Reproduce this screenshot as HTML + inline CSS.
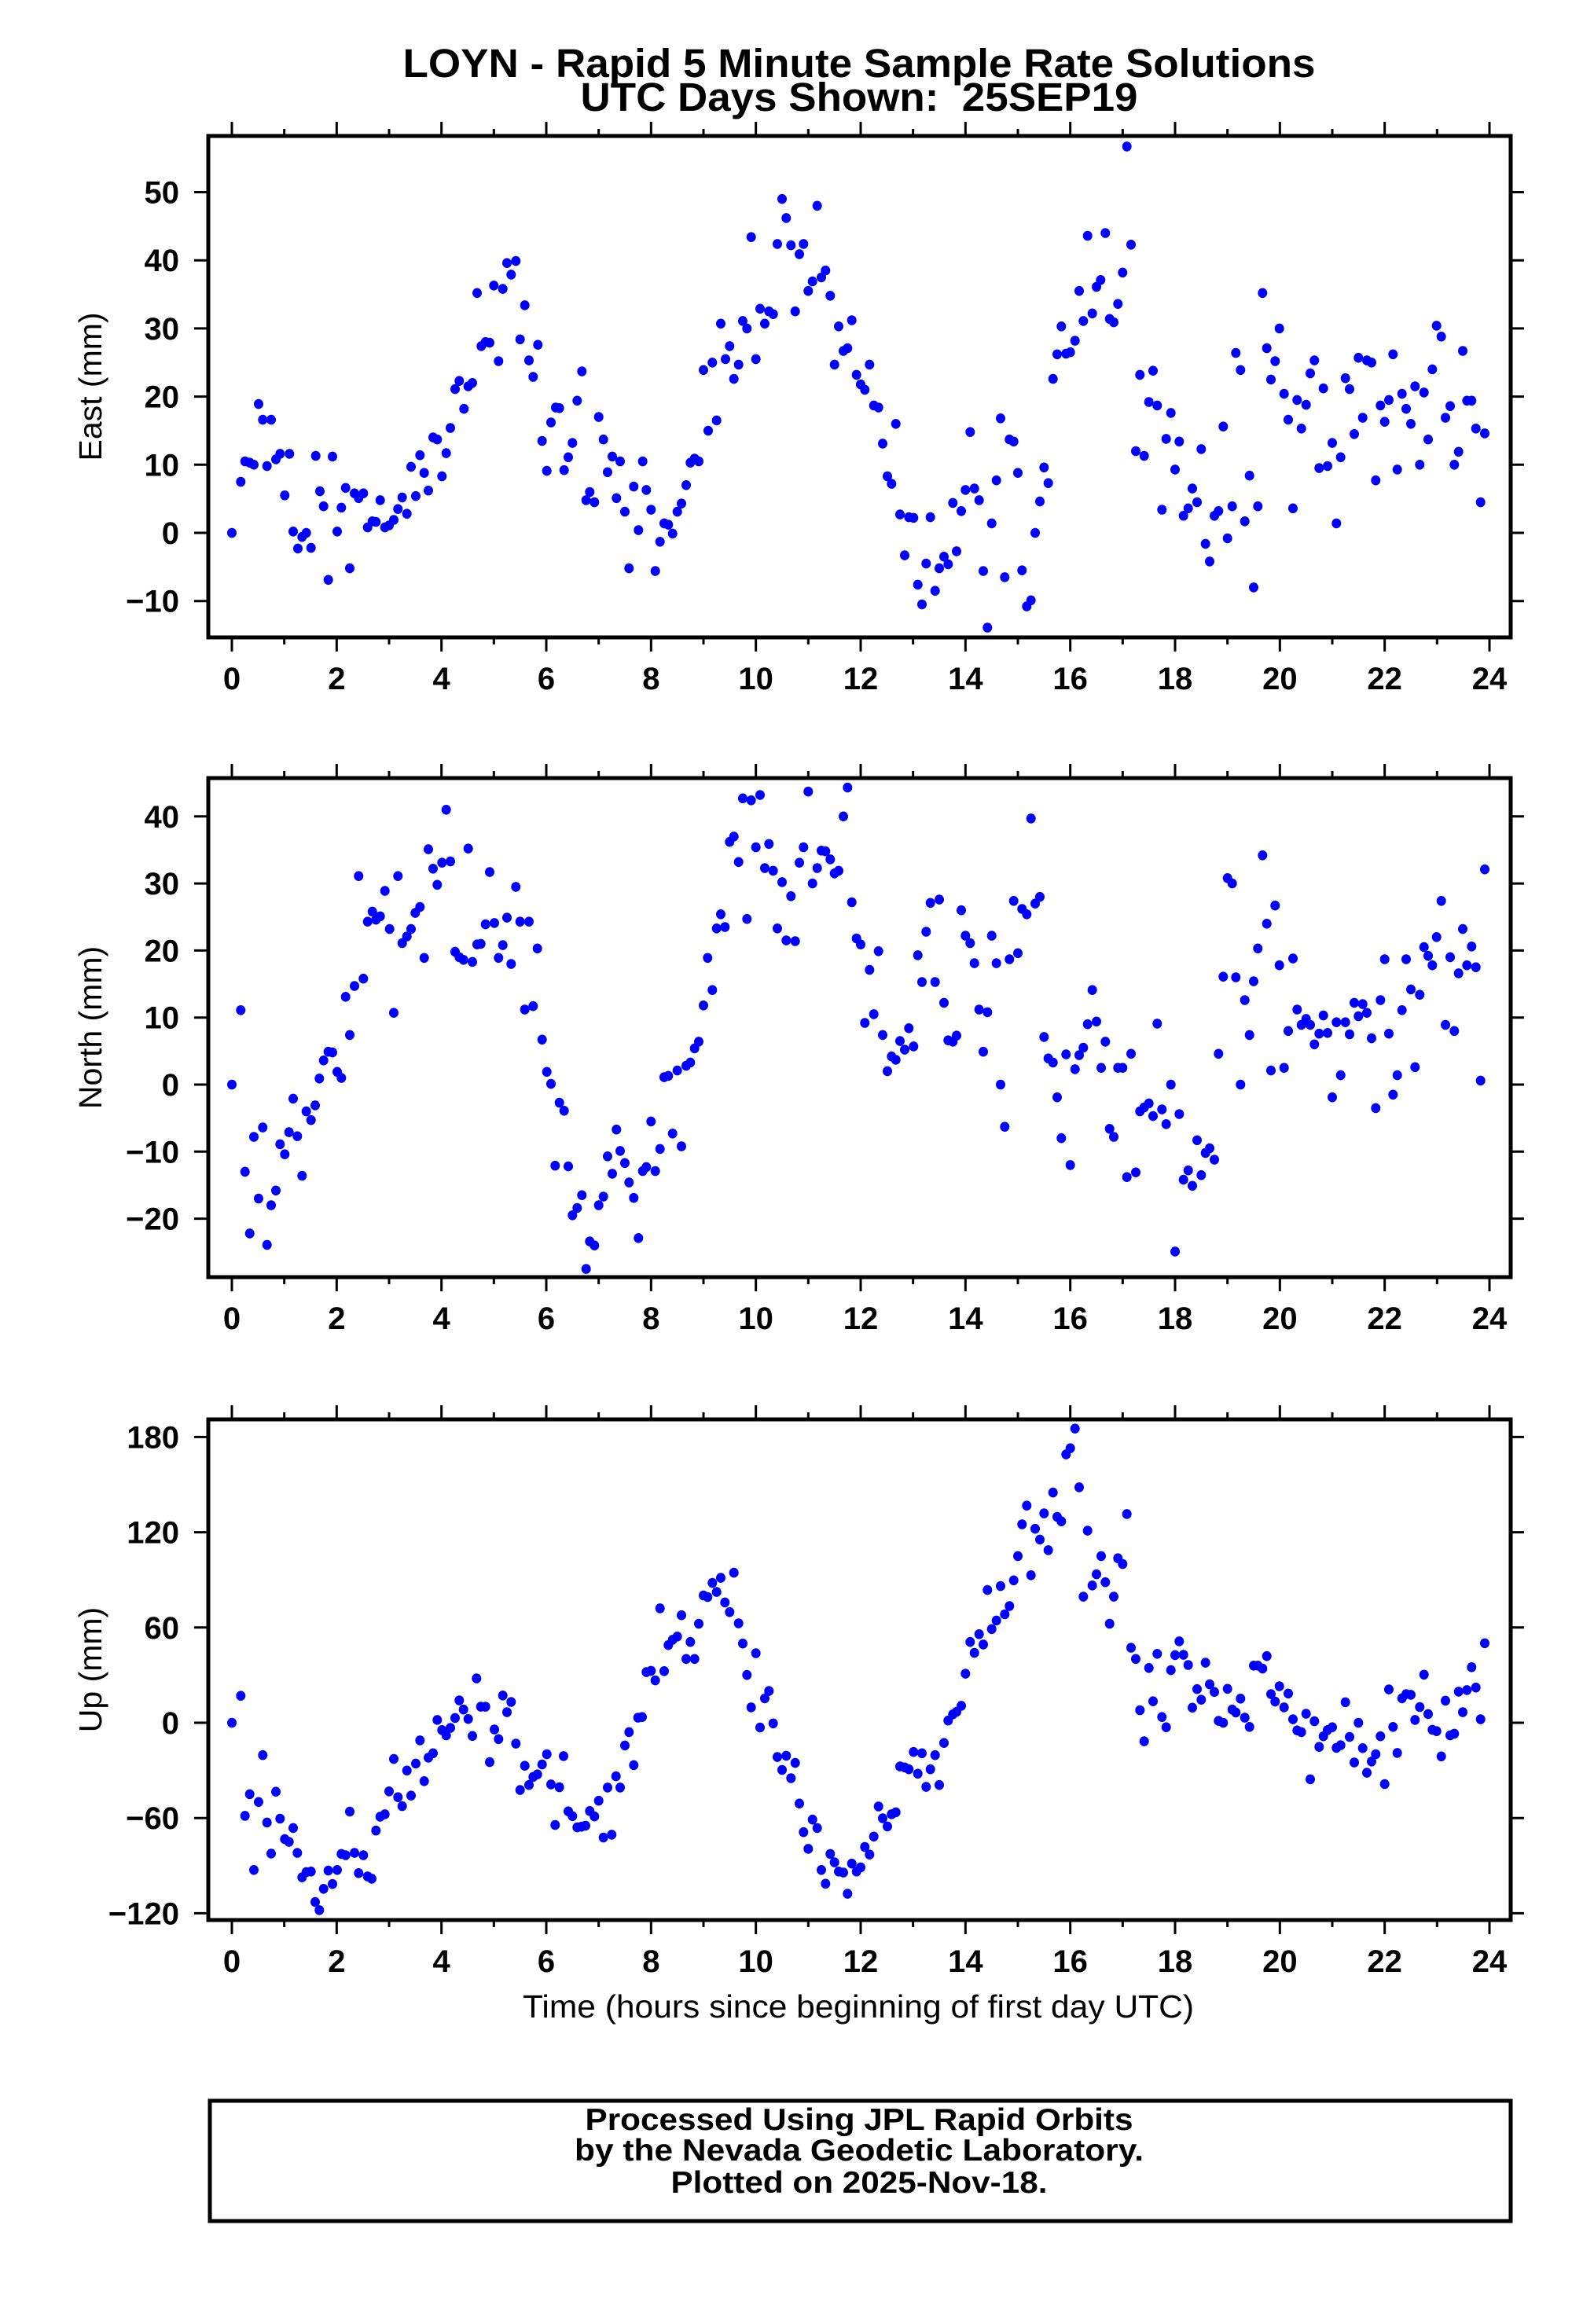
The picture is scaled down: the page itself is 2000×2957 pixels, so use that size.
<!DOCTYPE html>
<html><head><meta charset="utf-8"><style>
html,body{margin:0;padding:0;background:#fff;}
svg{display:block;}
text{font-family:"Liberation Sans",Arial,sans-serif;fill:#000;}
.b{font-weight:bold;}
</style></head><body>
<svg id="chart" width="2000" height="2957" viewBox="0 0 2000 2957" xmlns="http://www.w3.org/2000/svg">
<rect x="0" y="0" width="2000" height="2957" fill="#fff"/>
<text class="b" x="1093" y="98" font-size="51" text-anchor="middle" textLength="1161" lengthAdjust="spacingAndGlyphs">LOYN - Rapid 5 Minute Sample Rate Solutions</text>
<text class="b" x="1093" y="141" font-size="51" text-anchor="middle" xml:space="preserve" textLength="709" lengthAdjust="spacingAndGlyphs">UTC Days Shown:  25SEP19</text>
<g id="plots"></g>
<text x="1092" y="2567" font-size="41" text-anchor="middle" textLength="854" lengthAdjust="spacingAndGlyphs">Time (hours since beginning of first day UTC)</text>
<rect x="267" y="2673" width="1655" height="153" fill="none" stroke="#000" stroke-width="5"/>
<text class="b" x="1093" y="2710" font-size="39" text-anchor="middle" textLength="697" lengthAdjust="spacingAndGlyphs">Processed Using JPL Rapid Orbits</text>
<text class="b" x="1093" y="2749" font-size="39" text-anchor="middle" textLength="724" lengthAdjust="spacingAndGlyphs">by the Nevada Geodetic Laboratory.</text>
<text class="b" x="1093" y="2790" font-size="39" text-anchor="middle" textLength="479" lengthAdjust="spacingAndGlyphs">Plotted on 2025-Nov-18.</text>
</svg>
<script>
const eastT=[0,.17,.25,.34,.42,.51,.59,.67,.75,.84,.92,1.01,1.1,1.17,1.26,1.34,1.42,1.51,1.6,1.68,1.75,1.84,1.92,2.01,2.09,2.17,2.25,2.34,2.42,2.51,2.59,2.68,2.75,2.83,2.92,3,3.09,3.17,3.25,3.34,3.42,3.51,3.59,3.67,3.75,3.84,3.92,4.01,4.09,4.17,4.26,4.34,4.43,4.51,4.59,4.68,4.76,4.84,4.92,5,5.09,5.17,5.25,5.33,5.42,5.5,5.59,5.67,5.75,5.84,5.92,6.01,6.09,6.18,6.25,6.34,6.42,6.5,6.59,6.68,6.76,6.83,6.92,7,7.09,7.17,7.26,7.34,7.41,7.5,7.58,7.67,7.76,7.84,7.91,8,8.08,8.17,8.25,8.33,8.41,8.5,8.58,8.67,8.75,8.83,8.91,9,9.09,9.17,9.25,9.33,9.42,9.5,9.58,9.67,9.75,9.83,9.91,10,10.08,10.17,10.25,10.33,10.41,10.5,10.58,10.67,10.75,10.83,10.91,11,11.08,11.17,11.25,11.33,11.42,11.5,11.58,11.67,11.75,11.83,11.92,12,12.08,12.17,12.25,12.34,12.42,12.51,12.59,12.67,12.75,12.84,12.92,13.01,13.09,13.17,13.25,13.33,13.42,13.5,13.59,13.67,13.76,13.83,13.92,14,14.09,14.17,14.26,14.34,14.42,14.5,14.59,14.67,14.75,14.84,14.92,15,15.08,15.17,15.25,15.33,15.42,15.5,15.58,15.67,15.75,15.83,15.92,16,16.09,16.17,16.25,16.33,16.42,16.5,16.58,16.67,16.75,16.83,16.91,17,17.08,17.16,17.25,17.33,17.41,17.5,17.58,17.66,17.75,17.83,17.92,18,18.08,18.16,18.25,18.33,18.42,18.5,18.58,18.66,18.75,18.83,18.92,19,19.09,19.16,19.25,19.33,19.42,19.5,19.58,19.67,19.75,19.83,19.91,19.99,20.08,20.16,20.25,20.33,20.41,20.5,20.58,20.66,20.75,20.83,20.91,21,21.08,21.16,21.25,21.33,21.42,21.5,21.58,21.66,21.75,21.83,21.92,22,22.08,22.16,22.24,22.33,22.41,22.5,22.58,22.67,22.75,22.83,22.91,22.99,23.08,23.16,23.25,23.33,23.41,23.49,23.57,23.66,23.74,23.83,23.91];
const eastV=[0,7.5,10.5,10.3,10,18.9,16.6,9.8,16.6,10.8,11.6,5.5,11.6,.2,-2.3,-.6,0,-2.2,11.3,6.1,3.9,-6.9,11.2,.2,3.7,6.6,-5.2,5.8,5.1,5.8,.8,1.7,1.6,4.8,.8,1.1,1.9,3.5,5.2,2.8,9.7,5.4,11.4,8.8,6.2,14,13.7,8.3,11.7,15.4,21.1,22.3,18.2,21.5,22,35.2,27.4,28,27.9,36.3,25.2,35.8,39.6,37.9,39.9,28.4,33.4,25.3,22.9,27.6,13.5,9.1,16.2,18.4,18.3,9.2,11.1,13.2,19.4,23.7,4.8,6,4.5,17,13.7,8.9,11.2,5.1,10.5,3.1,-5.2,6.8,.4,10.5,6.3,3.4,-5.6,-1.3,1.4,1.2,-.1,3.1,4.3,7,10.3,10.9,10.5,23.9,15,25,16.5,30.7,25.5,27.4,22.6,24.7,31.1,30,43.4,25.5,32.9,30.7,32.5,32.1,42.4,49,46.2,42.2,32.5,40.9,42.4,35.5,36.9,48,37.5,38.5,34.8,24.7,30.3,26.7,27.1,31.2,23.2,21.8,21,24.7,18.7,18.4,13.1,8.3,7.2,16,2.7,-3.3,2.3,2.2,-7.6,-10.5,-4.5,2.3,-8.5,-5.2,-3.5,-4.6,4.4,-2.7,3.2,6.3,14.8,6.5,4.8,-5.6,-13.9,1.4,7.7,16.8,-6.5,13.7,13.4,8.8,-5.5,-10.8,-9.9,0,4.6,9.6,7.3,22.6,26.2,30.3,26.3,26.5,28.2,35.5,31.1,43.6,32.2,36.1,37.1,44,31.4,30.9,33.6,38.2,56.7,42.3,12,23.2,11.3,19.2,23.8,18.7,3.4,13.8,17.6,9.3,13.4,2.5,3.6,6.5,4.5,12.3,-1.6,-4.2,2.5,3.2,15.6,-.8,3.9,26.4,23.9,1.7,8.4,-8,3.9,35.2,27.1,22.5,25.2,30,20.4,16.6,3.6,19.5,15.3,18.8,23.4,25.3,9.5,21.2,9.8,13.2,1.4,11.1,22.7,21.1,14.5,25.7,16.9,25.3,25,7.7,18.7,16.3,19.5,26.2,9.3,20.4,18.2,16,21.5,10,20.6,13.7,24,30.4,28.8,16.9,18.6,10,11.9,26.7,19.4,19.4,15.3,4.5,14.6];

const northT=[0,.17,.25,.34,.42,.51,.59,.67,.75,.84,.92,1.01,1.09,1.17,1.25,1.34,1.42,1.51,1.59,1.67,1.75,1.84,1.92,2.01,2.09,2.17,2.25,2.34,2.42,2.51,2.59,2.68,2.75,2.83,2.92,3.01,3.09,3.17,3.25,3.34,3.42,3.5,3.59,3.67,3.75,3.84,3.92,4.01,4.09,4.17,4.26,4.34,4.42,4.51,4.59,4.68,4.75,4.84,4.92,5.01,5.09,5.17,5.25,5.33,5.42,5.5,5.59,5.67,5.75,5.83,5.92,6.01,6.09,6.17,6.25,6.34,6.42,6.5,6.59,6.68,6.76,6.83,6.92,7,7.09,7.17,7.26,7.34,7.41,7.5,7.58,7.67,7.76,7.84,7.91,8,8.08,8.17,8.25,8.33,8.41,8.5,8.58,8.67,8.75,8.83,8.91,9,9.08,9.17,9.25,9.33,9.41,9.5,9.58,9.67,9.75,9.83,9.91,10,10.08,10.17,10.25,10.33,10.41,10.5,10.58,10.67,10.75,10.83,10.91,11,11.08,11.17,11.25,11.33,11.42,11.5,11.58,11.67,11.75,11.83,11.92,12,12.08,12.17,12.25,12.34,12.42,12.51,12.59,12.67,12.75,12.84,12.92,13.01,13.09,13.17,13.25,13.33,13.42,13.5,13.59,13.67,13.76,13.83,13.92,14,14.09,14.17,14.26,14.34,14.42,14.5,14.59,14.67,14.75,14.84,14.92,15,15.08,15.17,15.25,15.33,15.42,15.5,15.58,15.67,15.75,15.83,15.92,16,16.09,16.17,16.25,16.33,16.42,16.5,16.59,16.67,16.75,16.83,16.91,17,17.08,17.16,17.25,17.33,17.41,17.5,17.58,17.66,17.75,17.83,17.92,18,18.08,18.16,18.25,18.33,18.42,18.5,18.58,18.66,18.75,18.83,18.92,19,19.09,19.16,19.25,19.33,19.42,19.5,19.58,19.67,19.75,19.83,19.91,19.99,20.08,20.16,20.25,20.33,20.41,20.5,20.58,20.66,20.75,20.83,20.91,21,21.08,21.16,21.25,21.33,21.42,21.5,21.58,21.66,21.75,21.83,21.92,22,22.08,22.16,22.24,22.33,22.41,22.5,22.58,22.67,22.75,22.83,22.91,22.99,23.08,23.16,23.25,23.33,23.41,23.49,23.57,23.66,23.74,23.83,23.91];
const northV=[0,11.1,-13,-22.2,-7.8,-17,-6.4,-23.9,-18,-15.8,-8.9,-10.4,-7.1,-2.1,-7.7,-13.6,-4,-5.3,-3.1,.9,3.6,4.9,4.8,1.9,1,13.1,7.4,14.7,31.1,15.8,24.3,25.8,24.6,25.1,28.9,23.2,10.7,31.1,21.1,22.1,23.2,25.6,26.5,18.9,35.1,32.2,29.8,33.1,41,33.3,19.8,19,18.6,35.2,18.3,20.9,21,23.9,31.7,24.1,18.9,20.8,24.9,18,29.5,24.3,11.2,24.3,11.7,20.3,6.7,1.9,.1,-12.1,-2.7,-3.9,-12.2,-19.5,-18.4,-16.5,-27.5,-23.4,-24,-18,-16.7,-10.7,-13.3,-6.7,-9.9,-11.7,-14.6,-16.9,-22.9,-12.9,-12.3,-5.5,-12.9,-9.6,1.1,1.3,-7.3,2.1,-9.2,2.8,3.3,5.4,6.4,11.8,18.9,14.1,23.3,25.4,23.5,36.2,37,33.2,42.7,24.7,42.4,35.4,43.2,32.3,35.9,31.9,23.3,30.2,21.5,28.1,21.4,33.1,35.4,43.7,30,32.3,34.9,34.8,33.6,31.5,31.9,40,44.3,27.2,21.8,20.9,9.2,17.1,10.5,19.9,7.4,2,4.2,3.7,6.5,5.2,8.4,5.7,19.3,15.3,22.8,27.1,15.3,27.6,12.2,6.6,6.4,7.3,26,22.2,21.1,18.1,11.2,4.9,10.8,22.2,18.1,0,-6.3,18.7,27.4,19.6,26.2,25.4,39.7,27,28,7.1,3.9,3.3,-1.9,-8,4.5,-12,2.3,4.4,5.5,9,14.1,9.4,2.5,6.4,-6.6,-7.8,2.5,2.5,-13.8,4.6,-13.1,-4,-3.4,-2.8,-4.7,9.1,-3.7,-5.9,0,-24.9,-4.4,-14.2,-12.8,-15.1,-8.3,-13.5,-10.2,-9.5,-11.2,4.6,16.1,30.8,30,16,0,12.6,7.4,15.4,20.3,34.2,24,2.1,26.7,17.8,2.5,8,18.8,11.2,8.9,9.8,8.9,6,7.6,10.3,7.7,-1.9,9.3,1.4,9.3,7.5,12.2,10.2,12,10.7,6.9,-3.5,12.6,18.7,7.6,-1.5,1.4,11.1,18.7,14.2,2.6,13.4,20.5,19.2,17.8,22,27.4,8.9,19,8,16.6,23.2,17.8,20.6,17.5,.6,32.1];

const upT=[0,.17,.25,.34,.42,.51,.59,.67,.75,.84,.92,1.01,1.09,1.17,1.25,1.34,1.42,1.51,1.59,1.67,1.75,1.84,1.92,2.01,2.09,2.17,2.25,2.34,2.42,2.51,2.59,2.67,2.75,2.83,2.92,3,3.09,3.17,3.25,3.34,3.42,3.51,3.59,3.67,3.75,3.84,3.92,4.01,4.09,4.17,4.26,4.34,4.42,4.51,4.59,4.67,4.75,4.84,4.92,5.01,5.09,5.17,5.25,5.33,5.42,5.5,5.59,5.67,5.75,5.83,5.92,6.01,6.09,6.17,6.25,6.33,6.42,6.5,6.59,6.67,6.75,6.83,6.92,7,7.09,7.17,7.25,7.33,7.41,7.5,7.58,7.67,7.75,7.83,7.91,8,8.08,8.17,8.25,8.33,8.41,8.5,8.58,8.67,8.75,8.83,8.91,9,9.08,9.17,9.25,9.33,9.41,9.5,9.58,9.67,9.75,9.83,9.91,10,10.08,10.17,10.25,10.33,10.41,10.5,10.58,10.67,10.75,10.83,10.91,11,11.08,11.17,11.25,11.33,11.42,11.5,11.58,11.67,11.75,11.83,11.92,12,12.08,12.17,12.25,12.34,12.42,12.51,12.59,12.67,12.75,12.84,12.92,13.01,13.09,13.17,13.25,13.33,13.42,13.5,13.59,13.67,13.76,13.83,13.92,14,14.09,14.17,14.26,14.34,14.42,14.5,14.59,14.67,14.75,14.84,14.92,15,15.08,15.17,15.25,15.33,15.42,15.5,15.58,15.67,15.75,15.83,15.92,16,16.09,16.17,16.25,16.33,16.42,16.5,16.59,16.67,16.75,16.83,16.91,17,17.08,17.16,17.25,17.33,17.41,17.5,17.58,17.66,17.75,17.83,17.92,18,18.08,18.16,18.25,18.33,18.42,18.5,18.58,18.66,18.75,18.83,18.92,19,19.09,19.16,19.25,19.33,19.42,19.5,19.58,19.67,19.75,19.83,19.91,19.99,20.08,20.16,20.25,20.33,20.41,20.5,20.58,20.66,20.75,20.83,20.91,21,21.08,21.16,21.25,21.33,21.42,21.5,21.58,21.66,21.75,21.83,21.92,22,22.08,22.16,22.24,22.33,22.41,22.5,22.58,22.67,22.75,22.83,22.91,22.99,23.08,23.16,23.25,23.33,23.41,23.49,23.57,23.66,23.74,23.83,23.91];
const upV=[0,17,-58.6,-45,-92.7,-49.9,-20.4,-62.8,-82.4,-43.4,-60.4,-73.3,-75,-66.3,-82,-97.4,-94.1,-93.7,-112.9,-118,-104.6,-93.1,-101.6,-92.7,-82.6,-83.4,-56,-82,-94.7,-83.4,-96.8,-98.2,-67.9,-59.2,-57.6,-43.2,-22.8,-46.9,-52.5,-30.1,-45.9,-25.7,-11.1,-36.8,-22,-19.2,1.8,-4.6,-7.9,-3.2,3,14.1,8.3,2.4,-8.3,27.9,10.1,10.1,-24.8,-4.2,-10.3,17.2,6.7,13.1,-13.1,-42.4,-27.1,-39.2,-34.1,-32.5,-26.3,-19.8,-38.8,-64.4,-40.6,-21,-55.8,-58.8,-65.9,-65.5,-64.8,-55.6,-59,-49.1,-72.3,-40.8,-70.5,-33.7,-40.8,-14.3,-5.9,-26.7,3.2,3.6,31.9,32.7,26.7,72.1,32.5,48.9,52.3,54.3,67.7,40.2,50.9,40.2,62.4,80.2,79.2,88.1,82.4,91.3,75.8,69.7,94.5,62.6,49.9,30.1,9.7,43.8,-3,15.4,20,-.4,-21.6,-29.7,-20.8,-34.9,-25.3,-50.9,-68.9,-79.4,-61,-66.3,-92.7,-101.4,-82.6,-87.9,-93.7,-94.3,-107.7,-88.7,-93.7,-91.1,-78.2,-83,-71.7,-52.7,-60.2,-65.3,-57.6,-56.4,-27.5,-28.1,-29.3,-18.4,-32.1,-19.2,-40.4,-29.3,-20.4,-39.2,-12.7,1.4,5.3,6.9,10.7,30.9,50.9,44,55.8,49.3,83.6,59,64.4,86.1,68.3,73.5,89.7,105,125,136.8,92.9,122.2,115.4,131.9,108.7,145,129.7,126.9,169,172.9,185.3,148.3,79.4,121,86.5,93.5,105,88.5,62.4,79.4,103.6,100,131.5,47.3,40.2,7.9,-11.7,34.5,13.5,43.4,3.6,-2.8,33.1,42.6,51.3,42.8,36.4,9.5,21.2,14.5,37.8,24.2,19.4,1.2,0,21.4,8.3,6.5,15.2,3.2,-2.6,36,36,34.1,42,18,13.3,23,9.7,18.4,2.2,-4.8,-5.9,5.7,-35.6,1,-15.2,-8.5,-4.6,-2.8,-15.8,-14.1,12.9,-8.9,-25,0,-16,-31.5,-24.4,-19.8,-8.5,-38.6,21,-2.6,-19,15.4,18,17.6,1.8,9.9,30.3,5.5,-4.4,-5.3,-21.2,13.9,-7.9,-6.9,19.6,6.7,20.6,35,22.2,2.2,50.1];

const xTicks=[0,2,4,6,8,10,12,14,16,18,20,22,24];
const xMinor=[1,3,5,7,9,11,13,15,17,19,21,23];
const eastTicks=[-10,0,10,20,30,40,50];
const northTicks=[-20,-10,0,10,20,30,40];
const upTicks=[-120,-60,0,60,120,180];

const NS='http://www.w3.org/2000/svg';
const L=265,R=1922;
function xs(h){return 295+h*(1600/24);}
function mk(tag,attrs,parent){const e=document.createElementNS(NS,tag);for(const k in attrs)e.setAttribute(k,attrs[k]);parent.appendChild(e);return e;}
function fmt(v){return v<0?'\u2212'+Math.abs(v):String(v);}

const panels=[
 {key:'east',title:'East (mm)',top:173,bot:811,zero:678,ppu:8.67,ticks:eastTicks,t:eastT,v:eastV},
 {key:'north',title:'North (mm)',top:990,bot:1625,zero:1380,ppu:8.53,ticks:northTicks,t:northT,v:northV},
 {key:'up',title:'Up (mm)',top:1806,bot:2443,zero:2192,ppu:2.02,ticks:upTicks,t:upT,v:upV}
];
const root=document.getElementById('plots');
panels.forEach(p=>{
 const ys=v=>p.zero-v*p.ppu;
 const g=mk('g',{},root);
 
 
 const pts=mk('g',{fill:'#0000ff'},g);
 
 
 for(let i=0;i<p.t.length;i++){
  const c=mk('ellipse',{cx:xs(p.t[i]).toFixed(1),cy:ys(p.v[i]).toFixed(1),rx:6,ry:6.3},pts);
  
  
 }
 const fr=mk('rect',{x:L,y:p.top,width:R-L,height:p.bot-p.top,fill:'none',stroke:'#000','stroke-width':5},g);
 
 
 const xa=mk('g',{stroke:'#000','stroke-width':3},g);
 
 
 xTicks.forEach(h=>{
  mk('line',{x1:xs(h),x2:xs(h),y1:p.bot,y2:p.bot+18},xa);
  mk('line',{x1:xs(h),x2:xs(h),y1:p.top,y2:p.top-18},xa);
  const t=mk('text',{x:xs(h),y:p.bot+66,'font-size':40,'text-anchor':'middle',class:'b',stroke:'none'},g);
  t.textContent=fmt(h);
  
  
 });
 xMinor.forEach(h=>{
  mk('line',{x1:xs(h),x2:xs(h),y1:p.bot,y2:p.bot+9},xa);
  mk('line',{x1:xs(h),x2:xs(h),y1:p.top,y2:p.top-9},xa);
 });
 const ya=mk('g',{stroke:'#000','stroke-width':3},g);
 
 
 p.ticks.forEach(v=>{
  mk('line',{x1:L-18,x2:L,y1:ys(v),y2:ys(v)},ya);
  mk('line',{x1:R,x2:R+17,y1:ys(v),y2:ys(v)},ya);
  const t=mk('text',{x:228,y:ys(v)+14,'font-size':40,'text-anchor':'end',class:'b',stroke:'none'},g);
  t.textContent=fmt(v);
  
  
 });
 const cy=(p.top+p.bot)/2;
 const yt=mk('text',{x:0,y:0,'font-size':41,'text-anchor':'middle',transform:'translate(129,'+cy+') rotate(-90)'},g);
 yt.textContent=p.title;
 
 
});
</script>
</body></html>
